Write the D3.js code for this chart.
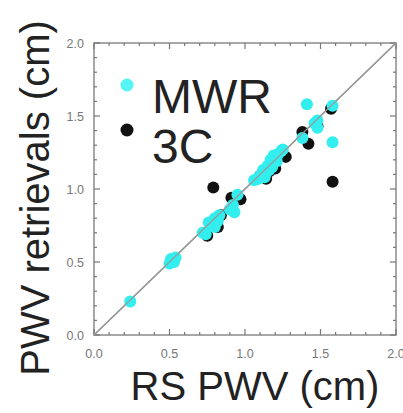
<!DOCTYPE html>
<html><head><meta charset="utf-8">
<script src="https://cdn.jsdelivr.net/npm/d3@7"></script>
<style>body{margin:0;background:#fff}svg{display:block}</style>
</head><body>
<script>
const mwrX = [0.24,0.50,0.52,0.54,0.53,0.51,0.72,0.74,0.76,0.78,0.80,0.82,0.83,0.80,0.90,0.92,0.95,0.93,1.06,1.08,1.10,1.12,1.14,1.15,1.17,1.18,1.19,1.21,1.22,1.24,1.25,1.16,1.13,1.09,1.41,1.48,1.48,1.46,1.58,1.58,1.38];
const mwrY = [0.23,0.49,0.51,0.53,0.50,0.52,0.70,0.69,0.77,0.75,0.80,0.78,0.82,0.74,0.86,0.89,0.96,0.84,1.06,1.07,1.09,1.13,1.11,1.16,1.20,1.15,1.23,1.19,1.24,1.26,1.27,1.13,1.08,1.07,1.58,1.47,1.42,1.45,1.57,1.32,1.35];
const c3X = [0.79,1.58,1.42,1.38,1.57,1.48,0.91,0.97,0.84,0.75,0.52,1.27,1.14,1.20,1.10,1.16,0.82];
const c3Y = [1.01,1.05,1.31,1.39,1.55,1.43,0.94,0.93,0.82,0.68,0.51,1.22,1.07,1.14,1.09,1.12,0.74];
const tickVals = [0.0,0.5,1.0,1.5,2.0];
const tickLabels = ["0.0","0.5","1.0","1.5","2.0"];
const legendNames = ["MWR","3C"];
const colors = {MWR:"#33eeee", C3:"#111111", legMWR:"#55f5f5"};

const W=403,H=413, L=94, R=396, T=43, B=335;
const svg = d3.select("body").append("svg").attr("width",W).attr("height",H);
const x = d3.scaleLinear().domain([0,2]).range([L,R]);
const y = d3.scaleLinear().domain([0,2]).range([B,T]);
const minor = d3.range(0,2.0001,0.1);
const axisCol="#8a8a8a";

// frame
svg.append("rect").attr("x",L).attr("y",T).attr("width",R-L).attr("height",B-T)
  .attr("fill","none").attr("stroke",axisCol).attr("stroke-width",1.5);

// inward ticks
const g = svg.append("g").attr("stroke","#777").attr("stroke-width",1.2);
minor.forEach(v=>{
  const major = Math.abs(v*2-Math.round(v*2))<1e-6;
  const len = major?6:3;
  g.append("line").attr("x1",x(v)).attr("x2",x(v)).attr("y1",B).attr("y2",B-len);
  g.append("line").attr("x1",x(v)).attr("x2",x(v)).attr("y1",T).attr("y2",T+len);
  g.append("line").attr("y1",y(v)).attr("y2",y(v)).attr("x1",L).attr("x2",L+len);
  g.append("line").attr("y1",y(v)).attr("y2",y(v)).attr("x1",R).attr("x2",R-len);
});

// tick labels
const tf = "'Liberation Sans', Arial, sans-serif";
tickVals.forEach((v,i)=>{
  svg.append("text").attr("x",x(v)).attr("y",358).attr("text-anchor","middle")
    .attr("font-family",tf).attr("font-size",12.5).attr("fill","#777").text(tickLabels[i]);
  svg.append("text").attr("x",84).attr("y",y(v)+4.5).attr("text-anchor","end")
    .attr("font-family",tf).attr("font-size",12.5).attr("fill","#777").text(tickLabels[i]);
});

// 1:1 line
svg.append("line").attr("x1",x(0)).attr("y1",y(0)).attr("x2",x(2)).attr("y2",y(2))
  .attr("stroke","#888").attr("stroke-width",1.3);

// points: 3C first, MWR on top
const pts3 = c3X.map((v,i)=>[v,c3Y[i]]);
const ptsM = mwrX.map((v,i)=>[v,mwrY[i]]);
svg.append("g").selectAll("circle").data(pts3).join("circle")
  .attr("cx",d=>x(d[0])).attr("cy",d=>y(d[1])).attr("r",6).attr("fill",colors.C3);
svg.append("g").selectAll("circle").data(ptsM).join("circle")
  .attr("cx",d=>x(d[0])).attr("cy",d=>y(d[1])).attr("r",6).attr("fill",colors.MWR);
svg.append("line").attr("x1",x(0)).attr("y1",y(0)).attr("x2",x(2)).attr("y2",y(2))
  .attr("stroke","#999").attr("stroke-width",1.1);

// legend
svg.append("circle").attr("cx",127).attr("cy",85).attr("r",6.5).attr("fill",colors.legMWR);
svg.append("circle").attr("cx",127).attr("cy",130).attr("r",6.5).attr("fill",colors.C3);
svg.append("text").attr("x",152).attr("y",113).attr("font-family",tf).attr("font-size",48)
  .attr("fill","#222").text(legendNames[0]);
svg.append("text").attr("x",152).attr("y",163).attr("font-family",tf).attr("font-size",48)
  .attr("fill","#222").text(legendNames[1]);

// axis titles
svg.append("text").attr("x",255).attr("y",400).attr("text-anchor","middle")
  .attr("font-family",tf).attr("font-size",40).attr("fill","#222").text("RS PWV (cm)");
svg.append("text").attr("transform","translate(49,198) rotate(-90)").attr("text-anchor","middle")
  .attr("font-family",tf).attr("font-size",40).attr("fill","#222").text("PWV retrievals (cm)");
</script>
</body></html>
